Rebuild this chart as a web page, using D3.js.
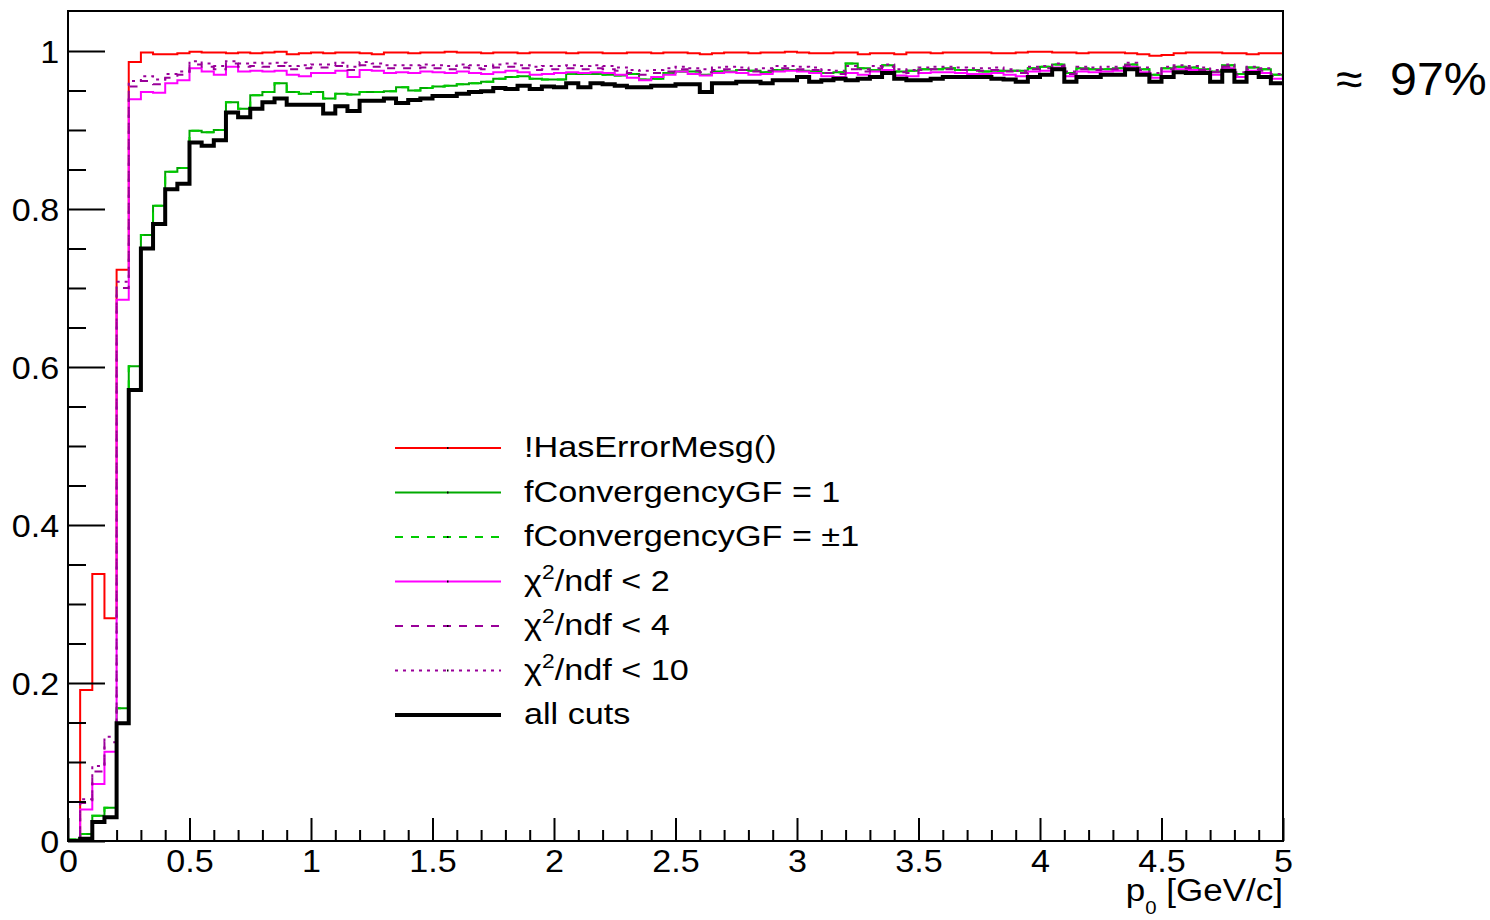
<!DOCTYPE html>
<html>
<head>
<meta charset="utf-8">
<script src="https://cdn.jsdelivr.net/npm/d3@7"></script>
<style>
  body { margin: 0; background: #fff; }
  text { font-family: "Liberation Sans", Arial, Helvetica, sans-serif; fill: #000; }
</style>
</head>
<body>
<svg id="chart" width="1490" height="920"></svg>
<script>
// Binning of the momentum axis p0 [GeV/c]
const pMin = 0, pMax = 5, nBins = 100;

// Efficiency per bin for each track-quality selection
const noErrorMsg = [
  0.000, 0.191, 0.338, 0.282, 0.723, 0.986, 0.998, 0.996, 0.996, 0.997,
  0.999, 0.998, 0.998, 0.997, 0.998, 0.997, 0.998, 0.999, 0.996, 0.997,
  0.998, 0.997, 0.998, 0.998, 0.997, 0.996, 0.998, 0.998, 0.997, 0.998,
  0.998, 0.999, 0.998, 0.998, 0.997, 0.998, 0.998, 0.997, 0.998, 0.998,
  0.998, 0.997, 0.998, 0.998, 0.997, 0.997, 0.998, 0.998, 0.997, 0.998,
  0.998, 0.997, 0.996, 0.997, 0.998, 0.998, 0.997, 0.998, 0.998, 0.999,
  0.998, 0.997, 0.997, 0.998, 0.998, 0.996, 0.997, 0.997, 0.996, 0.998,
  0.998, 0.997, 0.998, 0.998, 0.998, 0.998, 0.997, 0.997, 0.998, 0.999,
  0.999, 0.998, 0.998, 0.997, 0.998, 0.998, 0.998, 0.997, 0.996, 0.994,
  0.995, 0.997, 0.998, 0.998, 0.998, 0.997, 0.997, 0.996, 0.997, 0.997
];

const convOne = [
  0.002, 0.009, 0.032, 0.042, 0.168, 0.601, 0.767, 0.804, 0.847, 0.852,
  0.899, 0.897, 0.900, 0.935, 0.927, 0.944, 0.948, 0.959, 0.948, 0.946,
  0.948, 0.940, 0.946, 0.945, 0.948, 0.948, 0.949, 0.954, 0.950, 0.953,
  0.955, 0.956, 0.958, 0.959, 0.961, 0.965, 0.967, 0.968, 0.965, 0.964,
  0.964, 0.971, 0.971, 0.971, 0.970, 0.969, 0.971, 0.964, 0.965, 0.972,
  0.974, 0.974, 0.970, 0.974, 0.974, 0.976, 0.975, 0.973, 0.976, 0.976,
  0.975, 0.974, 0.972, 0.973, 0.984, 0.978, 0.976, 0.982, 0.974, 0.975,
  0.977, 0.977, 0.978, 0.976, 0.976, 0.974, 0.975, 0.975, 0.975, 0.978,
  0.980, 0.983, 0.972, 0.978, 0.977, 0.977, 0.978, 0.983, 0.977, 0.970,
  0.978, 0.980, 0.979, 0.977, 0.974, 0.982, 0.971, 0.979, 0.977, 0.970
];

// Converged or partially converged fits coincide with the fully converged ones
const convAbsOne = [
  0.002, 0.009, 0.032, 0.042, 0.168, 0.601, 0.767, 0.804, 0.847, 0.852,
  0.899, 0.897, 0.900, 0.935, 0.927, 0.944, 0.948, 0.959, 0.948, 0.946,
  0.948, 0.940, 0.946, 0.945, 0.948, 0.948, 0.949, 0.954, 0.950, 0.953,
  0.955, 0.956, 0.958, 0.959, 0.961, 0.965, 0.967, 0.968, 0.965, 0.964,
  0.964, 0.971, 0.971, 0.971, 0.970, 0.969, 0.971, 0.964, 0.965, 0.972,
  0.974, 0.974, 0.970, 0.974, 0.974, 0.976, 0.975, 0.973, 0.976, 0.976,
  0.975, 0.974, 0.972, 0.973, 0.984, 0.978, 0.976, 0.982, 0.974, 0.975,
  0.977, 0.977, 0.978, 0.976, 0.976, 0.974, 0.975, 0.975, 0.975, 0.978,
  0.980, 0.983, 0.972, 0.978, 0.977, 0.977, 0.978, 0.983, 0.977, 0.970,
  0.978, 0.980, 0.979, 0.977, 0.974, 0.982, 0.971, 0.979, 0.977, 0.970
];

const chi2Lt2 = [
  0.000, 0.040, 0.072, 0.113, 0.685, 0.939, 0.948, 0.947, 0.959, 0.963,
  0.978, 0.974, 0.970, 0.980, 0.974, 0.975, 0.974, 0.975, 0.970, 0.968,
  0.972, 0.972, 0.975, 0.967, 0.976, 0.975, 0.972, 0.973, 0.972, 0.974,
  0.973, 0.972, 0.974, 0.972, 0.971, 0.973, 0.975, 0.973, 0.970, 0.971,
  0.972, 0.973, 0.972, 0.973, 0.972, 0.970, 0.966, 0.963, 0.967, 0.970,
  0.974, 0.971, 0.969, 0.972, 0.973, 0.972, 0.970, 0.971, 0.974, 0.975,
  0.974, 0.972, 0.968, 0.967, 0.972, 0.970, 0.974, 0.976, 0.969, 0.968,
  0.972, 0.973, 0.973, 0.972, 0.971, 0.971, 0.972, 0.970, 0.968, 0.974,
  0.975, 0.979, 0.968, 0.974, 0.973, 0.974, 0.975, 0.980, 0.973, 0.966,
  0.974, 0.977, 0.976, 0.974, 0.970, 0.978, 0.967, 0.975, 0.972, 0.965
];

const chi2Lt4 = [
  0.000, 0.048, 0.088, 0.125, 0.700, 0.955, 0.962, 0.958, 0.966, 0.970,
  0.983, 0.980, 0.977, 0.984, 0.980, 0.981, 0.980, 0.981, 0.977, 0.978,
  0.979, 0.979, 0.981, 0.976, 0.982, 0.980, 0.978, 0.978, 0.978, 0.979,
  0.978, 0.977, 0.979, 0.978, 0.977, 0.979, 0.980, 0.978, 0.976, 0.977,
  0.977, 0.978, 0.977, 0.978, 0.977, 0.975, 0.972, 0.970, 0.972, 0.974,
  0.977, 0.975, 0.973, 0.976, 0.977, 0.976, 0.974, 0.975, 0.978, 0.978,
  0.977, 0.976, 0.972, 0.971, 0.977, 0.974, 0.978, 0.980, 0.973, 0.972,
  0.976, 0.977, 0.977, 0.976, 0.975, 0.975, 0.976, 0.974, 0.972, 0.977,
  0.978, 0.981, 0.971, 0.977, 0.976, 0.977, 0.977, 0.982, 0.976, 0.969,
  0.977, 0.979, 0.978, 0.976, 0.973, 0.980, 0.970, 0.977, 0.975, 0.968
];

const chi2Lt10 = [
  0.000, 0.053, 0.095, 0.132, 0.708, 0.962, 0.968, 0.964, 0.971, 0.974,
  0.987, 0.984, 0.981, 0.987, 0.984, 0.985, 0.984, 0.985, 0.981, 0.982,
  0.983, 0.983, 0.985, 0.980, 0.986, 0.984, 0.982, 0.982, 0.982, 0.983,
  0.982, 0.981, 0.983, 0.982, 0.981, 0.983, 0.984, 0.982, 0.980, 0.981,
  0.981, 0.982, 0.981, 0.982, 0.981, 0.979, 0.976, 0.975, 0.976, 0.978,
  0.980, 0.978, 0.977, 0.979, 0.980, 0.979, 0.977, 0.978, 0.981, 0.981,
  0.980, 0.979, 0.976, 0.975, 0.981, 0.977, 0.981, 0.983, 0.977, 0.976,
  0.979, 0.980, 0.980, 0.979, 0.978, 0.978, 0.979, 0.977, 0.975, 0.980,
  0.981, 0.984, 0.974, 0.980, 0.979, 0.980, 0.980, 0.985, 0.979, 0.972,
  0.980, 0.982, 0.981, 0.979, 0.976, 0.983, 0.973, 0.980, 0.978, 0.971
];

const allCuts = [
  0.000, 0.003, 0.024, 0.030, 0.149, 0.571, 0.750, 0.781, 0.825, 0.832,
  0.884, 0.880, 0.887, 0.922, 0.916, 0.927, 0.935, 0.940, 0.932, 0.932,
  0.932, 0.921, 0.930, 0.924, 0.937, 0.937, 0.940, 0.934, 0.938, 0.940,
  0.943, 0.943, 0.946, 0.948, 0.949, 0.953, 0.952, 0.956, 0.952, 0.955,
  0.954, 0.959, 0.954, 0.959, 0.958, 0.956, 0.954, 0.954, 0.956, 0.956,
  0.958, 0.958, 0.948, 0.959, 0.959, 0.961, 0.961, 0.959, 0.963, 0.963,
  0.967, 0.961, 0.963, 0.965, 0.963, 0.965, 0.967, 0.972, 0.965, 0.963,
  0.963, 0.965, 0.967, 0.967, 0.967, 0.967, 0.965, 0.964, 0.961, 0.967,
  0.970, 0.977, 0.961, 0.967, 0.967, 0.970, 0.970, 0.977, 0.970, 0.961,
  0.967, 0.973, 0.972, 0.972, 0.961, 0.975, 0.961, 0.972, 0.967, 0.959
];

// Axis tick values and labels
const yMajorTicks = [0, 0.2, 0.4, 0.6, 0.8, 1];
const yTickLabels = ["0", "0.2", "0.4", "0.6", "0.8", "1"];
const xMajorTicks = [0, 0.5, 1, 1.5, 2, 2.5, 3, 3.5, 4, 4.5, 5];
const xTickLabels = ["0", "0.5", "1", "1.5", "2", "2.5", "3", "3.5", "4", "4.5", "5"];

// Series drawn in this order (last one on top); chi-square labels carry a superscript
const series = [
  { values: noErrorMsg, label: "!HasErrorMesg()", color: "#ff0000", width: 2, dash: null },
  { values: convOne,    label: "fConvergencyGF = 1", color: "#00aa00", width: 2, dash: null },
  { values: convAbsOne, label: "fConvergencyGF = \u00b11", color: "#00cc00", width: 2, dash: "8,8" },
  { values: chi2Lt2,    label: ["\u03c7", "2", "/ndf < 2"], color: "#ff00ff", width: 2, dash: null },
  { values: chi2Lt4,    label: ["\u03c7", "2", "/ndf < 4"], color: "#990099", width: 2, dash: "8,8" },
  { values: chi2Lt10,   label: ["\u03c7", "2", "/ndf < 10"], color: "#990099", width: 2, dash: "3,5" },
  { values: allCuts,    label: "all cuts", color: "#000000", width: 4, dash: null }
];

const svg = d3.select("#chart");
const frame = { left: 68, right: 1283, top: 11, bottom: 841 };

const x = d3.scaleLinear().domain([pMin, pMax]).range([frame.left, frame.right]);
const y = d3.scaleLinear().domain([0, 1.0506]).range([frame.bottom, frame.top]);
const binW = (pMax - pMin) / nBins;

svg.append("defs").append("clipPath").attr("id", "plotClip")
  .append("rect")
  .attr("x", frame.left).attr("y", frame.top - 2)
  .attr("width", frame.right - frame.left).attr("height", frame.bottom - frame.top + 2);

// Histogram outlines as step lines
const step = d3.line()
  .x(d => x(d[0]))
  .y(d => y(d[1]))
  .curve(d3.curveStepAfter);

const plot = svg.append("g").attr("clip-path", "url(#plotClip)");
series.forEach(s => {
  const pts = s.values.map((v, i) => [pMin + i * binW, v]);
  pts.push([pMax, s.values[s.values.length - 1]]);
  plot.append("path")
    .attr("d", step(pts))
    .attr("fill", "none")
    .attr("stroke", s.color)
    .attr("stroke-width", s.width)
    .attr("stroke-dasharray", s.dash)
    .attr("stroke-linejoin", "miter")
    .attr("stroke-linecap", "butt");
});

// Axes with inward ticks
const fontSize = 31;
const labelStretch = 1.1;
const yMajor = d3.axisLeft(y).tickValues(yMajorTicks)
  .tickFormat((d, i) => yTickLabels[i]).tickSize(-37).tickPadding(8);
const yMinor = d3.axisLeft(y).tickValues(d3.range(0, 1.0001, 0.05).filter(v => Math.abs(v * 5 - Math.round(v * 5)) > 1e-6))
  .tickFormat("").tickSize(-18);
const xMajor = d3.axisBottom(x).tickValues(xMajorTicks)
  .tickFormat((d, i) => xTickLabels[i]).tickSize(-23).tickPadding(9);
const xMinor = d3.axisBottom(x).tickValues(d3.range(0.1, 5, 0.1).filter(v => Math.abs(v * 2 - Math.round(v * 2)) > 1e-6))
  .tickFormat("").tickSize(-11);

function styleAxis(g) {
  g.select(".domain").remove();
  g.selectAll(".tick line").attr("stroke", "#000").attr("stroke-width", 2);
  g.selectAll(".tick text").attr("font-size", fontSize)
    .attr("font-family", "'Liberation Sans', Arial, sans-serif").attr("fill", "#000")
    .attr("transform", `scale(${labelStretch},1)`);
}

svg.append("g").attr("transform", `translate(${frame.left},0)`).call(yMinor).call(styleAxis);
svg.append("g").attr("transform", `translate(${frame.left},0)`).call(yMajor).call(styleAxis)
  .selectAll(".tick text").attr("dy", "0.38em");
svg.append("g").attr("transform", `translate(0,${frame.bottom})`).call(xMinor).call(styleAxis);
svg.append("g").attr("transform", `translate(0,${frame.bottom})`).call(xMajor).call(styleAxis);

// Frame
svg.append("rect")
  .attr("x", frame.left).attr("y", frame.top)
  .attr("width", frame.right - frame.left).attr("height", frame.bottom - frame.top)
  .attr("fill", "none").attr("stroke", "#000").attr("stroke-width", 2);

// Axis title
const xTitle = svg.append("text")
  .attr("transform", `translate(${frame.right},901) scale(1.13,1)`)
  .attr("text-anchor", "end").attr("font-size", fontSize);
xTitle.append("tspan").text("p");
xTitle.append("tspan").attr("font-size", 18).attr("dy", 13).text("0");
xTitle.append("tspan").attr("dy", -13).text(" [GeV/c]");

// Overall efficiency note
const note = svg.append("text")
  .attr("transform", "translate(1336,95) scale(1.05,1)")
  .attr("font-size", 46);
note.append("tspan").text("\u2248");
note.append("tspan").attr("x", 51.5).text("97%");

// Legend
const legend = svg.append("g");
const legendTop = 448, legendStep = 44.5;
series.forEach((s, i) => {
  const ly = legendTop + i * legendStep;
  legend.append("line")
    .attr("x1", 395).attr("x2", 501).attr("y1", ly).attr("y2", ly)
    .attr("stroke", s.color).attr("stroke-width", s.width)
    .attr("stroke-dasharray", s.dash);
  legend.append("rect")
    .attr("x", 447).attr("y", ly - 1).attr("width", 1.5).attr("height", 2).attr("fill", "#000");
  const t = legend.append("text")
    .attr("transform", `translate(524,${ly + 9}) scale(1.14,1)`)
    .attr("font-size", 30);
  if (Array.isArray(s.label)) {
    t.append("tspan").text(s.label[0]);
    t.append("tspan").attr("font-size", 20).attr("dy", -12).text(s.label[1]);
    t.append("tspan").attr("dy", 12).text(s.label[2]);
  } else {
    t.text(s.label);
  }
});
</script>
</body>
</html>
